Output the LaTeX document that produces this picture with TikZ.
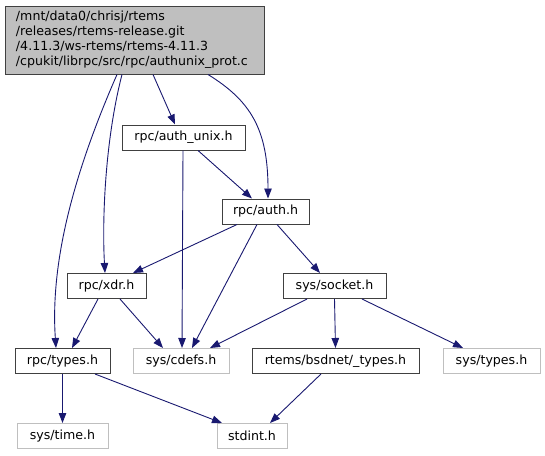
\documentclass[tikz,border=0pt]{standalone}
\usepackage{fontspec}
\setmainfont{DejaVu Sans}
\usetikzlibrary{arrows.meta}
\definecolor{edgeblue}{HTML}{191970}
\definecolor{boxdark}{HTML}{404040}
\definecolor{boxgray}{HTML}{BFBFBF}
\tikzset{
  hbox/.style={draw=boxdark, line width=1pt, minimum height=25pt, inner sep=0pt,
    font=\fontsize{12.6}{15}\selectfont, text=black},
  gbox/.style={hbox, draw=boxgray},
  dep/.style={draw=edgeblue, line width=0.9pt, -{Triangle[length=10pt,width=7.5pt]}},
}
\begin{document}
\begin{tikzpicture}[x=1pt,y=-1pt]
\useasboundingbox (0,0) rectangle (545,455);
\node[hbox, fill=boxgray, align=left, text width=237pt, inner xsep=11pt, minimum height=68pt] (top) at (134.5,40)
  {/mnt/data0/chrisj/rtems\\/releases/rtems-release.git\\/4.11.3/ws-rtems/rtems-4.11.3\\/cpukit/librpc/src/rpc/authunix\_prot.c};
\node[hbox, minimum width=123pt] (authunix) at (183.5,137.5) {rpc/auth\_unix.h};
\node[hbox, minimum width=87pt] (auth) at (265.5,211.5) {rpc/auth.h};
\node[hbox, minimum width=79pt] (xdr) at (106.5,286) {rpc/xdr.h};
\node[hbox, minimum width=103pt] (socket) at (334.5,286) {sys/socket.h};
\node[hbox, minimum width=95pt] (types) at (62.5,361) {rpc/types.h};
\node[gbox, minimum width=96pt] (cdefs) at (181,361) {sys/cdefs.h};
\node[hbox, minimum width=167pt] (bsdnet) at (335.5,361) {rtems/bsdnet/\_types.h};
\node[gbox, minimum width=97pt] (systypes) at (491.5,361) {sys/types.h};
\node[gbox, minimum width=91pt] (time) at (62.5,436) {sys/time.h};
\node[gbox, minimum width=70pt] (stdint) at (252,436) {stdint.h};

\draw[dep] ([xshift=18.5pt]top.south) -- ([xshift=-8.5pt]authunix.north);
\draw[dep] ([xshift=73.5pt]top.south) .. controls +(42,26) and +(0,-70) .. ([xshift=2.5pt]auth.north);
\draw[dep] ([xshift=-17.5pt]top.south) .. controls +(-42,96) and +(-6,-88) .. ([xshift=-6.5pt]types.north);
\draw[dep] ([xshift=-12.5pt]top.south) .. controls +(-17,66) and +(-3,-53) .. ([xshift=-1.5pt]xdr.north);
\draw[dep] ([xshift=14.5pt]authunix.south) -- ([xshift=-13.5pt]auth.north);
\draw[dep] ([xshift=-0.5pt]authunix.south) -- ([xshift=1pt]cdefs.north);
\draw[dep] ([xshift=-28.5pt]auth.south) -- ([xshift=26.5pt]xdr.north);
\draw[dep] ([xshift=-8.5pt]auth.south) -- ([xshift=11pt]cdefs.north);
\draw[dep] ([xshift=11.5pt]auth.south) -- ([xshift=-14.5pt]socket.north);
\draw[dep] ([xshift=-8.5pt]xdr.south) -- ([xshift=9.5pt]types.north);
\draw[dep] ([xshift=13.5pt]xdr.south) -- ([xshift=-18pt]cdefs.north);
\draw[dep] ([xshift=-27.5pt]socket.south) -- ([xshift=29pt]cdefs.north);
\draw[dep] (socket.south) -- (bsdnet.north);
\draw[dep] ([xshift=27.5pt]socket.south) -- ([xshift=-28.5pt]systypes.north);
\draw[dep] ([xshift=-14.5pt]bsdnet.south) -- ([xshift=18pt]stdint.north);
\draw[dep] (types.south) -- (time.north);
\draw[dep] ([xshift=32.5pt]types.south) -- ([xshift=-30pt]stdint.north);
\end{tikzpicture}
\end{document}
